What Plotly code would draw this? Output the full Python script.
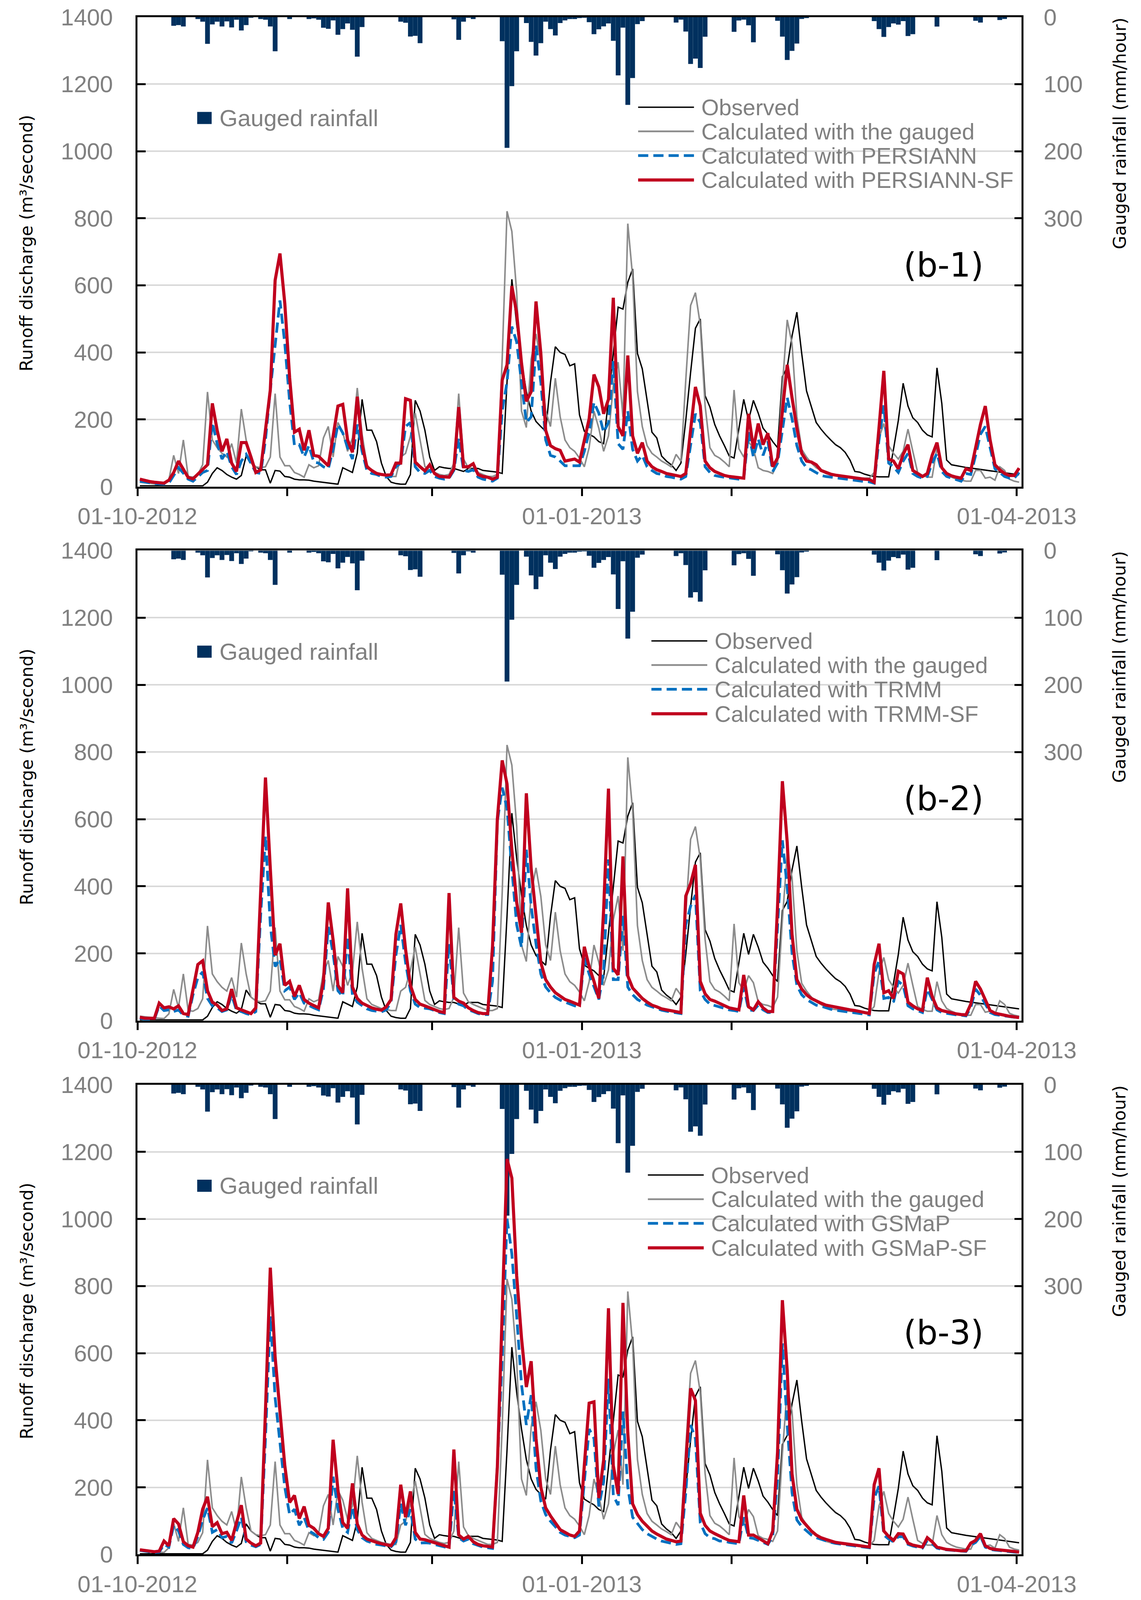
import pandas as pd
import plotly.graph_objects as go

# ---------------- data (daily values, 01-10-2012 .. 01-04-2013) ----------------
start = pd.Timestamp("2012-10-01")
n_days = 183
dates = [start + pd.Timedelta(days=i, hours=12) for i in range(n_days)]

rain = [0, 0, 0, 0, 0, 0, 0, 13, 12, 14,
        0, 0, 3, 7, 40, 11, 7, 14, 6.5, 15.5,
        4, 20, 12, 1, 0, 3, 4, 14, 51, 0,
        0, 3, 0, 0, 0, 3, 2, 4, 16, 17.5,
        5, 26.5, 18, 9.5, 19, 59, 15, 0, 0, 0,
        0, 0, 0, 0, 7, 8.5, 29, 28, 39, 0,
        0, 0, 0, 0, 0, 3.5, 34, 7, 1, 3,
        0, 0, 0, 0, 0, 36, 195, 103, 51, 0,
        9, 37, 57.5, 39, 7, 18, 27.5, 9, 5, 3,
        3, 1.6, 1, 7.7, 25.6, 18.3, 13.9, 9.6, 35.5, 87,
        15.8, 131, 91, 10.6, 6, 0, 0, 0, 0, 0,
        0, 8.2, 3.9, 21.6, 70, 62, 76, 29.4, 0, 0,
        0, 0, 0, 22, 5.2, 3.9, 12.3, 37.6, 0, 0,
        0, 0, 5.6, 29.2, 64, 50.5, 39.5, 2.8, 1.6, 0,
        0, 0, 0, 0, 0, 0, 0, 0, 0, 0,
        0, 0, 6, 18, 29.7, 15, 9.6, 11.3, 6, 28.4,
        25.6, 0, 0, 0, 0, 14.2, 0, 0, 0, 0,
        0, 0, 0, 5.6, 8.2, 0, 0, 0, 4.4, 2.8,
        0, 0, 0]

observed = [2, 2, 2, 2, 2, 2, 2, 2, 2, 2,
            2, 2, 2, 2, 13, 39, 56, 48, 36, 28,
            22, 33, 91, 70, 59, 50, 50, 10, 48, 46,
            30, 28, 22, 20, 20, 19, 16, 14, 13, 10,
            9, 7, 56, 49, 42, 100, 260, 168, 168, 134,
            70, 30, 13, 9, 7, 7, 36, 257, 225, 168,
            88, 48, 59, 56, 54, 54, 50, 45, 54, 54,
            54, 48, 46, 45, 43, 39, 311, 618, 483, 374,
            283, 225, 194, 179, 165, 311, 417, 400, 394, 360,
            366, 214, 165, 156, 148, 134, 128, 260, 397, 535,
            529, 609, 649, 397, 351, 254, 162, 145, 91, 76,
            65, 48, 70, 197, 340, 472, 500, 271, 237, 185,
            151, 122, 91, 85, 174, 260, 197, 257, 219, 174,
            156, 134, 116, 328, 355, 449, 520, 397, 285, 237,
            191, 171, 154, 139, 125, 116, 102, 79, 45, 43,
            37, 33, 30, 29, 29, 29, 111, 197, 308, 240,
            205, 191, 168, 154, 148, 354, 248, 79, 65, 62,
            59, 57, 55, 53, 50, 48, 46, 44, 42, 40,
            38, 36, 35]

gauged = [13, 11, 9, 8, 7, 6, 20, 93, 39, 139,
          30, 28, 36, 65, 282, 139, 116, 99, 88, 128,
          70, 231, 139, 70, 59, 56, 59, 88, 277, 88,
          62, 62, 42, 36, 28, 65, 56, 62, 145, 179,
          88, 191, 162, 105, 145, 294, 156, 65, 48, 42,
          36, 33, 30, 30, 88, 99, 150, 219, 139, 60,
          48, 42, 36, 33, 36, 70, 277, 82, 56, 48,
          42, 36, 30, 30, 36, 380, 821, 761, 580, 225,
          176, 380, 455, 370, 225, 179, 323, 208, 139, 116,
          105, 85, 59, 116, 225, 174, 105, 151, 300, 371,
          208, 784, 626, 283, 179, 122, 99, 88, 76, 68,
          59, 96, 76, 317, 540, 578, 483, 242, 116, 93,
          85, 73, 59, 288, 113, 88, 134, 113, 56, 48,
          45, 39, 70, 300, 497, 426, 208, 111, 88, 70,
          56, 48, 39, 35, 33, 31, 29, 27, 26, 25,
          25, 25, 42, 145, 188, 122, 99, 82, 105, 171,
          105, 42, 33, 28, 28, 116, 59, 36, 28, 22,
          19, 16, 16, 48, 48, 25, 28, 19, 59, 48,
          22, 16, 13]

persiann = [16, 13, 11, 9, 8, 7, 10, 35, 56, 40,
            22, 16, 30, 42, 48, 191, 128, 82, 105, 59,
            36, 76, 96, 70, 42, 39, 139, 288, 426, 555,
            426, 254, 122, 125, 88, 122, 73, 70, 59, 53,
            111, 185, 160, 116, 82, 185, 105, 48, 39, 36,
            30, 28, 30, 59, 70, 179, 191, 59, 42, 39,
            48, 30, 25, 22, 25, 48, 145, 48, 45, 50,
            28, 22, 19, 16, 25, 225, 311, 477, 431, 311,
            191, 208, 420, 311, 139, 93, 88, 76, 62, 62,
            62, 62, 105, 162, 251, 219, 162, 191, 374, 128,
            111, 225, 111, 76, 93, 59, 48, 39, 36, 30,
            28, 25, 22, 30, 122, 217, 191, 59, 42, 33,
            30, 28, 25, 23, 22, 22, 162, 88, 142, 93,
            134, 45, 70, 168, 265, 202, 122, 76, 56, 50,
            42, 33, 30, 28, 25, 23, 22, 20, 18, 16,
            15, 14, 10, 139, 242, 70, 59, 42, 76, 99,
            39, 30, 25, 30, 70, 99, 45, 30, 25, 19,
            16, 39, 36, 93, 156, 179, 116, 53, 42, 30,
            25, 25, 42]

persiann_sf = [22, 18, 15, 13, 11, 10, 19, 42, 76, 50,
               27, 23, 37, 53, 65, 248, 168, 105, 142, 70,
               45, 131, 131, 88, 42, 50, 168, 288, 615, 695,
               546, 325, 162, 171, 108, 168, 93, 90, 76, 62,
               150, 240, 245, 139, 102, 268, 125, 59, 48, 39,
               36, 34, 36, 70, 70, 262, 257, 73, 59, 47,
               65, 39, 30, 28, 28, 53, 237, 59, 59, 68,
               36, 30, 28, 22, 28, 317, 363, 598, 517, 368,
               254, 283, 552, 397, 168, 122, 113, 108, 76, 79,
               82, 73, 134, 202, 334, 297, 217, 260, 563, 179,
               151, 391, 151, 99, 131, 76, 59, 50, 45, 39,
               36, 33, 30, 39, 168, 297, 240, 76, 56, 45,
               39, 33, 30, 28, 26, 25, 217, 113, 188, 125,
               159, 59, 85, 225, 363, 265, 174, 99, 76, 73,
               65, 48, 42, 37, 34, 32, 29, 26, 25, 23,
               22, 21, 13, 175, 345, 82, 76, 53, 96, 125,
               48, 39, 30, 39, 93, 131, 56, 39, 32, 28,
               25, 53, 48, 116, 185, 240, 139, 65, 50, 39,
               33, 33, 55]

trmm = [7, 4, 4, 4, 44, 30, 32, 27, 32, 16,
        13, 77, 128, 145, 66, 44, 38, 27, 32, 77,
        30, 27, 21, 17, 27, 313, 550, 285, 161, 184,
        89, 100, 63, 83, 52, 44, 38, 32, 94, 279,
        200, 89, 72, 251, 77, 55, 44, 35, 30, 27,
        26, 32, 55, 195, 285, 173, 89, 49, 39, 37,
        35, 30, 24, 21, 229, 61, 49, 44, 32, 27,
        21, 18, 18, 117, 593, 694, 632, 453, 285, 218,
        509, 341, 229, 139, 100, 83, 69, 61, 55, 49,
        44, 41, 187, 139, 100, 63, 145, 480, 122, 122,
        313, 100, 77, 63, 55, 46, 41, 35, 31, 28,
        26, 24, 21, 285, 341, 374, 89, 63, 49, 45,
        40, 36, 32, 30, 27, 100, 32, 30, 46, 32,
        24, 24, 285, 537, 397, 201, 105, 77, 63, 55,
        46, 43, 38, 34, 31, 29, 27, 25, 23, 21,
        20, 17, 139, 178, 66, 69, 55, 117, 105, 44,
        35, 30, 24, 94, 61, 32, 24, 21, 18, 17,
        16, 14, 38, 94, 75, 49, 24, 18, 16, 13,
        11, 10, 8]

trmm_sf = [10, 7, 7, 7, 52, 38, 41, 35, 44, 21,
           18, 94, 167, 178, 89, 55, 46, 30, 35, 94,
           38, 32, 27, 21, 38, 357, 724, 453, 195, 229,
           105, 117, 72, 105, 63, 52, 44, 38, 117, 352,
           240, 105, 83, 394, 100, 66, 52, 44, 38, 34,
           31, 41, 63, 257, 349, 212, 105, 63, 49, 44,
           38, 32, 27, 24, 380, 69, 58, 52, 38, 30,
           24, 21, 21, 220, 600, 775, 705, 509, 352, 262,
           677, 453, 313, 173, 122, 100, 83, 72, 63, 58,
           52, 46, 220, 161, 117, 66, 330, 691, 156, 136,
           489, 133, 97, 80, 66, 55, 46, 41, 35, 32,
           30, 27, 24, 371, 408, 464, 117, 80, 63, 58,
           52, 46, 38, 35, 32, 136, 41, 32, 56, 38,
           27, 27, 341, 713, 531, 257, 122, 94, 77, 66,
           58, 52, 46, 43, 39, 36, 34, 32, 30, 27,
           24, 21, 167, 229, 83, 89, 66, 147, 139, 55,
           44, 35, 30, 128, 72, 38, 30, 26, 22, 20,
           18, 17, 49, 117, 94, 61, 30, 22, 18, 16,
           13, 11, 9]

gsmap = [12, 10, 8, 6, 7, 30, 22, 87, 70, 30,
         20, 18, 54, 103, 139, 66, 74, 50, 54, 34,
         70, 111, 38, 28, 23, 30, 346, 710, 467, 329,
         200, 119, 135, 87, 111, 70, 62, 50, 45, 66,
         232, 135, 78, 66, 143, 74, 50, 40, 34, 30,
         28, 25, 23, 38, 151, 87, 135, 46, 34, 35,
         34, 30, 26, 23, 19, 192, 50, 40, 46, 32,
         26, 22, 20, 18, 265, 588, 1001, 896, 710, 507,
         386, 475, 257, 159, 119, 99, 83, 66, 58, 53,
         50, 58, 224, 374, 346, 143, 216, 524, 176, 147,
         426, 200, 111, 91, 74, 62, 53, 46, 40, 36,
         32, 30, 32, 184, 386, 346, 95, 62, 50, 47,
         40, 40, 36, 34, 32, 111, 50, 48, 42, 36,
         30, 54, 224, 629, 386, 184, 103, 83, 70, 58,
         50, 45, 40, 36, 33, 31, 29, 28, 26, 24,
         23, 20, 168, 204, 58, 46, 38, 53, 53, 30,
         25, 22, 19, 42, 32, 19, 15, 14, 12, 11,
         10, 9, 28, 36, 54, 22, 15, 13, 11, 10,
         8, 7, 6]

gsmap_sf = [14, 12, 11, 8, 10, 40, 26, 107, 91, 38,
            26, 22, 66, 135, 172, 83, 95, 62, 66, 42,
            95, 147, 46, 34, 26, 34, 430, 855, 588, 426,
            265, 155, 176, 107, 143, 87, 78, 62, 54, 78,
            342, 192, 95, 78, 212, 91, 58, 46, 40, 36,
            32, 28, 26, 50, 208, 111, 188, 66, 46, 44,
            40, 34, 30, 28, 22, 313, 58, 46, 54, 38,
            30, 26, 23, 22, 260, 700, 1179, 1122, 831, 645,
            499, 576, 346, 200, 139, 115, 95, 74, 66, 58,
            54, 70, 265, 451, 455, 168, 281, 734, 265, 180,
            750, 362, 151, 119, 99, 83, 70, 61, 53, 46,
            42, 38, 40, 265, 495, 459, 123, 87, 70, 62,
            54, 48, 42, 40, 38, 176, 58, 58, 50, 40,
            32, 70, 305, 758, 548, 240, 135, 103, 87, 70,
            58, 50, 45, 40, 36, 34, 32, 30, 28, 26,
            24, 22, 208, 257, 70, 54, 42, 62, 61, 34,
            28, 26, 22, 50, 38, 22, 18, 15, 14, 12,
            11, 11, 34, 42, 62, 26, 18, 15, 14, 12,
            11, 9, 7]

x_tick_vals = ["2012-10-01", "2012-11-01", "2012-12-01", "2013-01-01",
               "2013-02-01", "2013-03-01", "2013-04-01"]
x_tick_text = ["01-10-2012", "", "", "01-01-2013", "", "", "01-04-2013"]
q_ticks = [0, 200, 400, 600, 800, 1000, 1200, 1400]
rain_ticks = [0, 100, 200, 300, 400, 500, 600, 700]
rain_tick_text = ["0", "100", "200", "300", "", "", "", ""]

panels = [
    dict(name="PERSIANN", sat=persiann, sf=persiann_sf, tag="(b-1)"),
    dict(name="TRMM", sat=trmm, sf=trmm_sf, tag="(b-2)"),
    dict(name="GSMaP", sat=gsmap, sf=gsmap_sf, tag="(b-3)"),
]

# ---------------- styling / layout ----------------
W, H = 2922, 4885
X_DOM = [352 / W, 2616 / W]
PANEL_PX = [(52, 1485.5), (1681, 3116), (3312, 4746)]   # top, bottom (px)
LEG_X = [(103.64, 115.20, 116.57), (106.39, 117.95, 119.32), (105.66, 117.22, 118.59)]

RED = "#C0001E"
BLUE = "#0070C0"
GRAY = "#8C8C8C"
NAVY = "#00305E"
TICK_GRAY = "#808080"
TICK_FONT = dict(family="Liberation Sans", size=60, color=TICK_GRAY)
TITLE_FONT = dict(family="DejaVu Sans", size=53, color="black")
LEG_FONT = dict(family="Liberation Sans", size=58, color=TICK_GRAY)
RAIN_LEG_FONT = dict(family="Liberation Sans", size=60, color=TICK_GRAY)


def at(d):
    return start + pd.Timedelta(days=d)


fig = go.Figure()
layout = dict(template="none", width=W, height=H, autosize=False,
              margin=dict(l=0, r=0, t=0, b=0, pad=0),
              paper_bgcolor="white", plot_bgcolor="white",
              showlegend=False, annotations=[], shapes=[])

for i, p in enumerate(panels):
    k = i + 1
    xa = "x" if k == 1 else f"x{k}"
    yr = "y" if k == 1 else f"y{2 * k - 1}"      # rainfall axis (right, reversed)
    yq = f"y{2 * k}"                              # discharge axis (left)
    top, bot = PANEL_PX[i]
    dom = [1 - bot / H, 1 - top / H]

    fig.add_trace(go.Bar(x=dates, y=rain, xaxis=xa, yaxis=yr, name="Gauged rainfall",
                         marker=dict(color=NAVY, line=dict(width=0)),
                         width=86400000 * 0.99))
    fig.add_trace(go.Scatter(x=dates, y=observed, xaxis=xa, yaxis=yq, mode="lines",
                             name="Observed", line=dict(color="black", width=3.5)))
    fig.add_trace(go.Scatter(x=dates, y=gauged, xaxis=xa, yaxis=yq, mode="lines",
                             name="Calculated with the gauged",
                             line=dict(color=GRAY, width=4)))
    fig.add_trace(go.Scatter(x=dates, y=p["sat"], xaxis=xa, yaxis=yq, mode="lines",
                             name=f"Calculated with {p['name']}",
                             line=dict(color=BLUE, width=7, dash="26px,13px")))
    fig.add_trace(go.Scatter(x=dates, y=p["sf"], xaxis=xa, yaxis=yq, mode="lines",
                             name=f"Calculated with {p['name']}-SF",
                             line=dict(color=RED, width=8)))

    xkey = "xaxis" if k == 1 else f"xaxis{k}"
    yrkey = "yaxis" if k == 1 else f"yaxis{2 * k - 1}"
    yqkey = f"yaxis{2 * k}"
    layout[xkey] = dict(domain=X_DOM, anchor=yr, type="date", automargin=False,
                        range=["2012-10-01", "2013-04-02"],
                        tickmode="array", tickvals=x_tick_vals, ticktext=x_tick_text,
                        ticks="outside", ticklen=20, tickwidth=4.5, tickcolor="black",
                        showline=True, linecolor="black", linewidth=4.5, mirror=True,
                        showgrid=False, zeroline=False, tickfont=TICK_FONT,
                        ticklabelstandoff=0)
    layout[yrkey] = dict(domain=dom, anchor=xa, side="right", range=[700, 0],
                         automargin=False,
                         tickmode="array", tickvals=rain_ticks, ticktext=rain_tick_text,
                         ticks="inside", ticklen=18, tickwidth=4.5, tickcolor="black",
                         showline=True, linecolor="black", linewidth=4.5,
                         showgrid=False, zeroline=False, tickfont=TICK_FONT,
                         ticklabelstandoff=40)
    layout[yqkey] = dict(overlaying=yr, anchor=xa, side="left", range=[0, 1400],
                         automargin=False,
                         tickmode="array", tickvals=q_ticks,
                         ticks="inside", ticklen=21, tickwidth=4.5, tickcolor="black",
                         showline=True, linecolor="black", linewidth=4.5,
                         showgrid=True, gridcolor="#D9D9D9", gridwidth=3.5,
                         zeroline=False, tickfont=TICK_FONT, ticklabelstandoff=46)

    # axis titles (rotated)
    layout["annotations"].append(dict(
        text="Runoff discharge (m³/second)", xref="paper", yref="paper",
        x=68 / W, y=1 - ((top + bot) / 2 - 26) / H, textangle=-90, showarrow=False,
        xanchor="center", yanchor="middle", font=TITLE_FONT))
    layout["annotations"].append(dict(
        text="Gauged rainfall (mm/hour)", xref="paper", yref="paper",
        x=2867 / W, y=1 - (top + 356) / H, textangle=-90, showarrow=False,
        xanchor="center", yanchor="middle", font=TITLE_FONT))
    # panel tag
    layout["annotations"].append(dict(
        text=p["tag"], xref=xa, yref=yq, x=at(166.9), y=661, showarrow=False,
        xanchor="center", yanchor="middle",
        font=dict(family="DejaVu Sans", size=85, color="black")))

    # rainfall legend entry
    layout["shapes"].append(dict(type="rect", xref=xa, yref=yq,
                                 x0=at(12.37), x1=at(15.36), y0=1099 - 18, y1=1099 + 18,
                                 fillcolor=NAVY, line=dict(width=0)))
    layout["annotations"].append(dict(
        text="Gauged rainfall", xref=xa, yref=yq, x=at(16.81), y=1099,
        showarrow=False, xanchor="left", yanchor="middle", font=RAIN_LEG_FONT))

    # line legend entries
    lx0, lx1, tx = LEG_X[i]
    entries = [
        ("Observed", dict(color="black", width=3.5)),
        ("Calculated with the gauged", dict(color=GRAY, width=4.5)),
        (f"Calculated with {p['name']}", dict(color=BLUE, width=7, dash="26px,13px")),
        (f"Calculated with {p['name']}-SF", dict(color=RED, width=8)),
    ]
    rows = [1131, 1059, 987, 914]
    for (label, ln), yv in zip(entries, rows):
        layout["shapes"].append(dict(type="line", xref=xa, yref=yq,
                                     x0=at(lx0), x1=at(lx1), y0=yv, y1=yv, line=ln))
        layout["annotations"].append(dict(
            text=label, xref=xa, yref=yq, x=at(tx), y=yv, showarrow=False,
            xanchor="left", yanchor="middle", font=LEG_FONT))

fig.update_layout(**layout)

# Fit the figure to the browser viewport (the window may be shorter than the
# nominal size); rotated titles are scaled with the vertical extent.
post = """
document.body.style.margin = '0';
document.body.style.overflow = 'hidden';
var gd = document.getElementById('{plot_id}');
var w = window.innerWidth, h = window.innerHeight;
if (w > 0 && h > 0) {
  gd.style.width = w + 'px';
  gd.style.height = h + 'px';
  var s = Math.min(1, h / 4885);
  var upd = {width: w, height: h};
  var anns = gd.layout.annotations || [];
  for (var i = 0; i < anns.length; i++) {
    if (anns[i].textangle === -90) {
      upd['annotations[' + i + '].font.size'] = 53 * s;
    }
  }
  Plotly.relayout(gd, upd);
}
"""
fig.write_html("out.html", post_script=post, config={"displayModeBar": False})
